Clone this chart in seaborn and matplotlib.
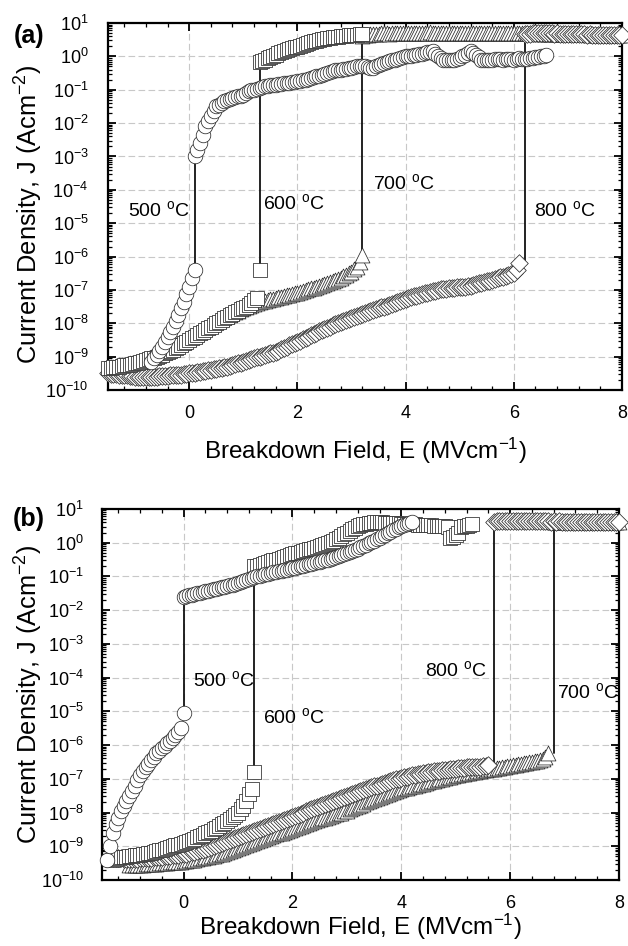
import numpy as np
import pandas as pd
import matplotlib
matplotlib.use("Agg")
import matplotlib.pyplot as plt
import seaborn as sns
from matplotlib.ticker import LogLocator, MultipleLocator, FixedLocator, NullFormatter

sns.set_style("ticks")
plt.rcParams["font.family"] = ["Liberation Sans", "DejaVu Sans"]
plt.rcParams["mathtext.fontset"] = "custom"
plt.rcParams["mathtext.rm"] = "Liberation Sans"
plt.rcParams["mathtext.it"] = "Liberation Sans:italic"
plt.rcParams["mathtext.bf"] = "Liberation Sans:bold"
for key in ("text.color", "axes.labelcolor", "xtick.color", "ytick.color",
            "xtick.labelcolor", "ytick.labelcolor"):
    plt.rcParams[key] = "black"

# ---------- data: log10(J / A cm^-2); E sweep start (MV/cm), 0.05 steps ----------
# Panel (a)
a_circ_lo_E0 = -0.7
a_circ_lo = [-9.15, -9.05, -8.95, -8.83, -8.70, -8.55, -8.40, -8.25, -8.10, -7.93,
             -7.75, -7.55, -7.35, -7.12, -6.90, -6.65, -6.40]
a_circ_hi_E0 = 0.1
a_circ_hi = [-3.00, -2.80, -2.60, -2.35, -2.10, -1.95, -1.80, -1.65, -1.50, -1.45,
             -1.40, -1.35, -1.30, -1.28, -1.25, -1.22, -1.20, -1.18, -1.15, -1.10,
             -1.05, -1.02, -1.00, -0.97, -0.95, -0.92, -0.90, -0.88, -0.87, -0.86,
             -0.85, -0.83, -0.82, -0.81, -0.80, -0.79, -0.78, -0.77, -0.75, -0.73,
             -0.72, -0.70, -0.68, -0.65, -0.62, -0.60, -0.58, -0.55, -0.52, -0.50,
             -0.47, -0.45, -0.42, -0.41, -0.40, -0.38, -0.37, -0.36, -0.35, -0.32,
             -0.30, -0.29, -0.28, -0.30, -0.32, -0.34, -0.35, -0.30, -0.25, -0.22,
             -0.20, -0.18, -0.15, -0.12, -0.10, -0.08, -0.05, -0.02, 0.00, 0.01,
             0.02, 0.04, 0.05, 0.07, 0.08, 0.10, 0.12, 0.14, 0.15, 0.08,
             0.00, -0.05, -0.10, -0.11, -0.12, -0.11, -0.10, -0.08, -0.05, 0.00,
             0.05, 0.10, 0.15, 0.10, 0.05, -0.02, -0.10, -0.11, -0.12, -0.11,
             -0.10, -0.09, -0.08, -0.09, -0.10, -0.09, -0.08, -0.09, -0.10, -0.08,
             -0.05, -0.07, -0.08, -0.07, -0.05, -0.04, -0.03, -0.02, 0.00, 0.02,
             0.04]
a_sq_lo_E0 = -1.5
a_sq_lo = [-9.35, -9.33, -9.30, -9.30, -9.30, -9.28, -9.25, -9.25, -9.25, -9.23,
           -9.20, -9.18, -9.15, -9.13, -9.10, -9.08, -9.05, -9.03, -9.00, -8.98,
           -8.95, -8.90, -8.85, -8.83, -8.80, -8.75, -8.70, -8.65, -8.60, -8.55,
           -8.50, -8.45, -8.40, -8.35, -8.30, -8.25, -8.20, -8.15, -8.10, -8.05,
           -8.00, -7.95, -7.90, -7.85, -7.80, -7.76, -7.72, -7.67, -7.62, -7.58,
           -7.55, -7.50, -7.45, -7.38, -7.30, -7.25, -6.40]
a_sq_hi_E0 = 1.3
a_sq_hi = [-0.17, -0.13, -0.10, -0.06, -0.02, 0.02, 0.05, 0.09, 0.12, 0.15,
           0.18, 0.21, 0.24, 0.27, 0.29, 0.32, 0.34, 0.37, 0.40, 0.43,
           0.45, 0.47, 0.49, 0.51, 0.52, 0.54, 0.55, 0.57, 0.58, 0.59,
           0.60, 0.61, 0.62, 0.63, 0.64, 0.65, 0.65, 0.66, 0.66]
a_tri_lo_E0 = -1.5
a_tri_lo = [-9.30, -9.30, -9.30, -9.28, -9.25, -9.25, -9.25, -9.23, -9.20, -9.20,
            -9.20, -9.18, -9.15, -9.12, -9.10, -9.05, -9.00, -8.98, -8.95, -8.92,
            -8.90, -8.85, -8.80, -8.75, -8.70, -8.66, -8.62, -8.58, -8.55, -8.50,
            -8.45, -8.40, -8.35, -8.30, -8.25, -8.20, -8.15, -8.10, -8.05, -8.00,
            -7.95, -7.90, -7.85, -7.82, -7.78, -7.74, -7.70, -7.66, -7.62, -7.58,
            -7.55, -7.52, -7.48, -7.45, -7.42, -7.39, -7.36, -7.34, -7.32, -7.30,
            -7.28, -7.26, -7.24, -7.22, -7.20, -7.18, -7.16, -7.14, -7.12, -7.10,
            -7.08, -7.05, -7.03, -7.00, -6.98, -6.95, -6.93, -6.90, -6.88, -6.85,
            -6.82, -6.79, -6.76, -6.73, -6.70, -6.67, -6.63, -6.59, -6.55, -6.50,
            -6.45, -6.38, -6.30, -6.15, -5.95]
a_tri_hi_E0 = 3.2
a_tri_hi = [0.62, 0.64, 0.65, 0.66, 0.67, 0.68, 0.68, 0.69, 0.70, 0.69,
            0.68, 0.70, 0.71, 0.70, 0.69, 0.70, 0.71, 0.70, 0.69, 0.70,
            0.71, 0.70, 0.69, 0.70, 0.71, 0.72, 0.70, 0.69, 0.70, 0.71,
            0.70, 0.69, 0.70, 0.71, 0.70, 0.69, 0.70, 0.71, 0.70, 0.69,
            0.70, 0.71, 0.70, 0.69, 0.70, 0.70, 0.69, 0.70, 0.71, 0.70,
            0.69, 0.70, 0.70, 0.69, 0.70, 0.71, 0.70, 0.69, 0.70, 0.70,
            0.69, 0.70, 0.69, 0.70, 0.69, 0.68, 0.69, 0.68, 0.69, 0.68,
            0.68, 0.69, 0.68, 0.67, 0.68, 0.67, 0.68, 0.67, 0.66, 0.67,
            0.66, 0.67, 0.66, 0.66, 0.65, 0.66, 0.65, 0.66, 0.65, 0.65,
            0.65, 0.64, 0.65, 0.64, 0.64, 0.64, 0.63]
a_dia_lo_E0 = -1.5
a_dia_lo = [-9.50, -9.51, -9.52, -9.53, -9.55, -9.55, -9.55, -9.56, -9.58, -9.59,
            -9.60, -9.60, -9.60, -9.60, -9.60, -9.60, -9.60, -9.60, -9.60, -9.59,
            -9.58, -9.57, -9.57, -9.56, -9.55, -9.55, -9.55, -9.54, -9.53, -9.52,
            -9.50, -9.49, -9.48, -9.47, -9.45, -9.44, -9.42, -9.41, -9.40, -9.38,
            -9.37, -9.35, -9.34, -9.32, -9.30, -9.28, -9.25, -9.22, -9.20, -9.18,
            -9.15, -9.12, -9.10, -9.08, -9.05, -9.02, -9.00, -8.98, -8.95, -8.92,
            -8.90, -8.88, -8.85, -8.82, -8.78, -8.74, -8.70, -8.66, -8.62, -8.58,
            -8.55, -8.52, -8.48, -8.44, -8.40, -8.36, -8.32, -8.28, -8.24, -8.20,
            -8.16, -8.13, -8.10, -8.06, -8.03, -8.00, -7.96, -7.93, -7.90, -7.87,
            -7.84, -7.81, -7.78, -7.75, -7.72, -7.69, -7.66, -7.63, -7.60, -7.57,
            -7.55, -7.52, -7.50, -7.47, -7.44, -7.41, -7.38, -7.35, -7.32, -7.30,
            -7.27, -7.24, -7.22, -7.19, -7.17, -7.14, -7.12, -7.10, -7.08, -7.06,
            -7.04, -7.02, -7.00, -6.98, -6.97, -6.96, -6.95, -6.94, -6.93, -6.92,
            -6.92, -6.91, -6.90, -6.88, -6.87, -6.85, -6.83, -6.80, -6.78, -6.76,
            -6.74, -6.72, -6.70, -6.67, -6.65, -6.62, -6.60, -6.57, -6.54, -6.51,
            -6.48, -6.40, -6.20]
a_dia_hi_E0 = 6.2
a_dia_hi = [0.66, 0.67, 0.68, 0.69, 0.70, 0.70, 0.69, 0.70, 0.69, 0.70,
            0.69, 0.68, 0.69, 0.68, 0.68, 0.67, 0.68, 0.67, 0.67, 0.66,
            0.67, 0.66, 0.66, 0.65, 0.66, 0.65, 0.65, 0.64, 0.65, 0.64,
            0.64, 0.64, 0.63, 0.64, 0.63, 0.63, 0.64]

# Panel (b)
b_circ_lo_E0 = -1.4
b_circ_lo = [-9.40, -9.00, -8.60, -8.35, -8.15, -7.95, -7.80, -7.65, -7.50, -7.35,
             -7.20, -7.05, -6.90, -6.78, -6.65, -6.55, -6.45, -6.35, -6.25, -6.17,
             -6.10, -6.02, -5.95, -5.87, -5.80, -5.70, -5.60, -5.50, -5.05]
b_circ_hi_E0 = 0.0
b_circ_hi = [-1.60, -1.58, -1.56, -1.54, -1.52, -1.50, -1.48, -1.46, -1.44, -1.42,
             -1.40, -1.38, -1.36, -1.34, -1.32, -1.30, -1.28, -1.26, -1.24, -1.22,
             -1.19, -1.16, -1.13, -1.10, -1.07, -1.05, -1.02, -1.00, -0.98, -0.96,
             -0.94, -0.92, -0.90, -0.88, -0.87, -0.85, -0.83, -0.81, -0.80, -0.78,
             -0.76, -0.74, -0.72, -0.70, -0.68, -0.66, -0.64, -0.62, -0.60, -0.58,
             -0.56, -0.54, -0.52, -0.50, -0.48, -0.46, -0.43, -0.40, -0.37, -0.34,
             -0.31, -0.28, -0.25, -0.22, -0.18, -0.14, -0.10, -0.06, -0.02, 0.02,
             0.06, 0.10, 0.15, 0.20, 0.24, 0.28, 0.33, 0.38, 0.42, 0.46,
             0.50, 0.53, 0.56, 0.58, 0.60]
b_sq_lo_E0 = -1.3
b_sq_lo = [-9.40, -9.37, -9.35, -9.33, -9.32, -9.31, -9.30, -9.28, -9.27, -9.26,
           -9.25, -9.23, -9.22, -9.21, -9.20, -9.17, -9.15, -9.12, -9.10, -9.07,
           -9.05, -9.02, -9.00, -8.97, -8.95, -8.92, -8.90, -8.87, -8.84, -8.81,
           -8.78, -8.74, -8.70, -8.66, -8.62, -8.58, -8.55, -8.50, -8.45, -8.40,
           -8.35, -8.30, -8.25, -8.18, -8.12, -8.06, -8.00, -7.90, -7.80, -7.65,
           -7.45, -7.30, -6.80]
b_sq_hi_E0 = 1.3
b_sq_hi = [-0.70, -0.68, -0.65, -0.62, -0.60, -0.58, -0.55, -0.52, -0.50, -0.48,
           -0.45, -0.42, -0.40, -0.38, -0.35, -0.32, -0.30, -0.28, -0.25, -0.22,
           -0.20, -0.18, -0.15, -0.12, -0.10, -0.08, -0.05, -0.02, 0.02, 0.06,
           0.10, 0.15, 0.20, 0.25, 0.30, 0.35, 0.40, 0.44, 0.48, 0.51,
           0.54, 0.56, 0.58, 0.59, 0.60, 0.60, 0.60, 0.60, 0.59, 0.59,
           0.58, 0.58, 0.57, 0.57, 0.56, 0.56, 0.55, 0.55, 0.54, 0.54,
           0.53, 0.53, 0.52, 0.52, 0.51, 0.51, 0.50, 0.50, 0.50, 0.50,
           0.49, 0.47, 0.15, 0.18, 0.22, 0.30, 0.45, 0.48, 0.50, 0.52,
           0.55]
b_tri_lo_E0 = -1.0
b_tri_lo = [-9.55, -9.55, -9.55, -9.55, -9.55, -9.55, -9.54, -9.54, -9.53, -9.53,
            -9.52, -9.51, -9.50, -9.50, -9.49, -9.48, -9.47, -9.47, -9.46, -9.46,
            -9.45, -9.44, -9.42, -9.41, -9.40, -9.38, -9.36, -9.35, -9.33, -9.31,
            -9.30, -9.28, -9.26, -9.24, -9.22, -9.19, -9.16, -9.13, -9.10, -9.08,
            -9.05, -9.02, -8.99, -8.96, -8.93, -8.90, -8.87, -8.84, -8.81, -8.78,
            -8.75, -8.72, -8.70, -8.67, -8.65, -8.62, -8.60, -8.57, -8.55, -8.52,
            -8.50, -8.47, -8.44, -8.41, -8.38, -8.35, -8.32, -8.29, -8.26, -8.23,
            -8.20, -8.17, -8.15, -8.12, -8.10, -8.07, -8.05, -8.02, -8.00, -7.97,
            -7.95, -7.91, -7.88, -7.84, -7.81, -7.77, -7.74, -7.70, -7.67, -7.63,
            -7.60, -7.57, -7.54, -7.51, -7.48, -7.45, -7.42, -7.39, -7.36, -7.33,
            -7.30, -7.28, -7.26, -7.24, -7.22, -7.20, -7.18, -7.16, -7.14, -7.12,
            -7.10, -7.08, -7.06, -7.04, -7.02, -7.00, -6.98, -6.96, -6.94, -6.92,
            -6.90, -6.88, -6.87, -6.85, -6.84, -6.82, -6.81, -6.79, -6.78, -6.76,
            -6.75, -6.73, -6.72, -6.71, -6.70, -6.68, -6.67, -6.65, -6.64, -6.63,
            -6.62, -6.60, -6.59, -6.57, -6.56, -6.54, -6.53, -6.51, -6.50, -6.48,
            -6.47, -6.45, -6.42, -6.35, -6.24]
b_tri_hi_E0 = 6.8
b_tri_hi = [0.60, 0.61, 0.62, 0.63, 0.62, 0.63, 0.62, 0.63, 0.62, 0.62,
            0.63, 0.62, 0.62, 0.61, 0.62, 0.61, 0.61, 0.62, 0.61, 0.60,
            0.61, 0.60, 0.60, 0.61, 0.60]
b_dia_lo_E0 = -1.3
b_dia_lo = [-9.35, -9.35, -9.36, -9.36, -9.37, -9.37, -9.37, -9.37, -9.37, -9.37,
            -9.36, -9.36, -9.35, -9.35, -9.34, -9.33, -9.32, -9.32, -9.31, -9.30,
            -9.29, -9.28, -9.27, -9.26, -9.25, -9.24, -9.23, -9.22, -9.20, -9.18,
            -9.16, -9.14, -9.12, -9.10, -9.07, -9.05, -9.02, -8.99, -8.96, -8.93,
            -8.90, -8.87, -8.84, -8.81, -8.78, -8.75, -8.72, -8.69, -8.66, -8.63,
            -8.60, -8.57, -8.54, -8.51, -8.48, -8.45, -8.42, -8.39, -8.36, -8.33,
            -8.30, -8.27, -8.24, -8.21, -8.18, -8.15, -8.12, -8.09, -8.06, -8.03,
            -8.00, -7.97, -7.94, -7.91, -7.88, -7.85, -7.82, -7.79, -7.76, -7.73,
            -7.70, -7.67, -7.64, -7.61, -7.58, -7.55, -7.52, -7.49, -7.46, -7.43,
            -7.40, -7.37, -7.34, -7.31, -7.28, -7.25, -7.22, -7.20, -7.17, -7.15,
            -7.12, -7.10, -7.07, -7.05, -7.02, -7.00, -6.98, -6.96, -6.94, -6.92,
            -6.90, -6.88, -6.87, -6.85, -6.84, -6.82, -6.81, -6.79, -6.78, -6.77,
            -6.76, -6.75, -6.74, -6.73, -6.72, -6.71, -6.70, -6.69, -6.68, -6.67,
            -6.66, -6.66, -6.65, -6.65, -6.64, -6.64, -6.63, -6.62, -6.60]
b_dia_hi_E0 = 5.7
b_dia_hi = [0.62, 0.63, 0.64, 0.65, 0.64, 0.65, 0.64, 0.65, 0.64, 0.64,
            0.65, 0.64, 0.63, 0.64, 0.64, 0.63, 0.64, 0.63, 0.63, 0.64,
            0.63, 0.62, 0.63, 0.62, 0.63, 0.62, 0.62, 0.61, 0.62, 0.61,
            0.62, 0.61, 0.61, 0.60, 0.61, 0.60, 0.61, 0.60, 0.60, 0.61,
            0.60, 0.60, 0.61, 0.60, 0.60, 0.61, 0.60]

temps = ["500 $^{\\rm o}$C", "600 $^{\\rm o}$C", "700 $^{\\rm o}$C", "800 $^{\\rm o}$C"]
# label anchor positions (E, log10 J)
a_lab_E = [-1.13, 1.37, 3.39, 6.37]
a_lab_logJ = [-4.6, -4.4, -3.8, -4.6]
b_lab_E = [0.17, 1.46, 6.87, 4.43]
b_lab_logJ = [-4.07, -5.17, -4.43, -3.78]

STEP = 0.05


def frame(E0, vals):
    vals = np.asarray(vals, dtype=float)
    E = E0 + STEP * np.arange(len(vals))
    return pd.DataFrame({"E": E, "J": 10.0 ** vals})


panels = {
    "a": {
        "circ": (frame(a_circ_lo_E0, a_circ_lo), frame(a_circ_hi_E0, a_circ_hi)),
        "sq": (frame(a_sq_lo_E0, a_sq_lo), frame(a_sq_hi_E0, a_sq_hi)),
        "tri": (frame(a_tri_lo_E0, a_tri_lo), frame(a_tri_hi_E0, a_tri_hi)),
        "dia": (frame(a_dia_lo_E0, a_dia_lo), frame(a_dia_hi_E0, a_dia_hi)),
    },
    "b": {
        "circ": (frame(b_circ_lo_E0, b_circ_lo), frame(b_circ_hi_E0, b_circ_hi)),
        "sq": (frame(b_sq_lo_E0, b_sq_lo), frame(b_sq_hi_E0, b_sq_hi)),
        "tri": (frame(b_tri_lo_E0, b_tri_lo), frame(b_tri_hi_E0, b_tri_hi)),
        "dia": (frame(b_dia_lo_E0, b_dia_lo), frame(b_dia_hi_E0, b_dia_hi)),
    },
}

styles = {
    "tri": dict(marker="^", s=115),
    "dia": dict(marker="D", s=80),
    "sq": dict(marker="s", s=95),
    "circ": dict(marker="o", s=110),
}
draw_order = ["tri", "dia", "sq", "circ"]

fig = plt.figure(figsize=(6.28, 9.46), dpi=100)
ax_a = fig.add_axes([0.172, 0.5877, 0.8185, 0.388])
ax_b = fig.add_axes([0.1624, 0.0698, 0.8232, 0.3922])


def draw(ax, key, lab_E, lab_logJ, xlab_y, ylab_x, ylab_y, ypad):
    data = panels[key]
    for i, name in enumerate(draw_order):
        lo, hi = data[name]
        ax.plot([hi["E"].iloc[0], hi["E"].iloc[0]], [lo["J"].iloc[-1], hi["J"].iloc[0]],
                color="#111111", lw=1.3, zorder=2)
        for df in (lo, hi):
            sns.scatterplot(data=df, x="E", y="J", ax=ax, color="white",
                            edgecolor="#2a2a2a", linewidth=0.55, clip_on=False,
                            zorder=3 + i, legend=False, **styles[name])
    ax.set_yscale("log")
    ax.set_ylim(1e-10, 1e1)
    ax.set_xlim(-1.5, 8)
    ax.xaxis.set_major_locator(FixedLocator([0, 2, 4, 6, 8]))
    ax.xaxis.set_minor_locator(MultipleLocator(0.4))
    ax.yaxis.set_major_locator(LogLocator(base=10, numticks=30))
    ax.yaxis.set_minor_locator(LogLocator(base=10, subs=np.arange(2, 10), numticks=30))
    ax.yaxis.set_minor_formatter(NullFormatter())
    ax.tick_params(which="both", direction="in", top=True, right=True,
                   colors="black", labelcolor="black")
    ax.tick_params(which="major", length=6, width=1.3, labelsize=13)
    ax.tick_params(which="minor", length=3, width=0.9)
    ax.tick_params(axis="y", which="major", pad=ypad)
    ax.tick_params(axis="x", which="major", pad=11)
    ax.grid(True, which="major", linestyle=(0, (6, 3)), color="#c8c8c8", linewidth=0.8)
    ax.set_axisbelow(True)
    for sp in ax.spines.values():
        sp.set_linewidth(1.6)
        sp.set_color("black")
    for t, e, lj in zip(temps, lab_E, lab_logJ):
        ax.text(e, 10.0 ** lj, t, fontsize=14, ha="left", va="center", zorder=10,
                color="black")
    ax.set_xlabel("Breakdown Field, E (MVcm$^{-1}$)", fontsize=17.5, color="black")
    ax.set_ylabel("Current Density, J (Acm$^{-2}$)", fontsize=18.3, color="black")
    ax.xaxis.set_label_coords(0.5, xlab_y)
    ax.yaxis.set_label_coords(ylab_x, ylab_y)


draw(ax_a, "a", a_lab_E, a_lab_logJ, -0.125, -0.1226, 0.48, 14)
draw(ax_b, "b", b_lab_E, b_lab_logJ, -0.086, -0.110, 0.50, 13)

fig.text(0.046, 0.962, "(a)", fontsize=18, fontweight="bold", ha="center", va="center",
         color="black")
fig.text(0.046, 0.4514, "(b)", fontsize=18, fontweight="bold", ha="center", va="center",
         color="black")

fig.savefig("out.png", dpi=100)
